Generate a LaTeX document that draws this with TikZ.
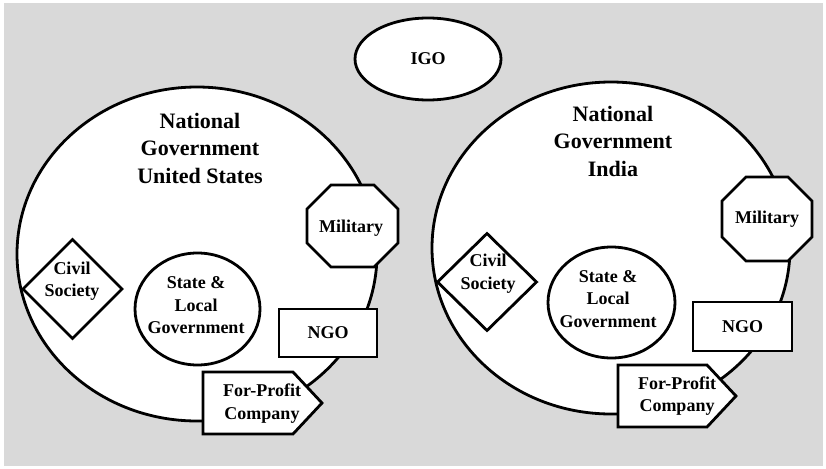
\documentclass[tikz,border=0pt]{standalone}
\usepackage{fontspec}
\setmainfont{Liberation Serif}
\usetikzlibrary{shapes.geometric}
\definecolor{bgc}{RGB}{217,217,217}
\begin{document}
\begin{tikzpicture}[x=1pt,y=-1pt,
  outl/.style={draw=black, line width=2.8pt, fill=white, line join=miter},
  shp/.style={outl, inner sep=0pt, outer sep=0pt},
  title/.style={font=\fontsize{22}{27.5}\selectfont\bfseries, align=center, inner sep=0pt},
  lab/.style={font=\fontsize{18}{22.5}\selectfont\bfseries, align=center, inner sep=0pt}]
\useasboundingbox (0,0) rectangle (826,468);
\fill[bgc] (4,3) rectangle (823,466);

% IGO
\node[shp, ellipse, minimum width=146pt, minimum height=82pt, lab] (igo) at (428,59) {IGO};

% ---------- United States ----------
\node[shp, ellipse, minimum width=360pt, minimum height=334pt] (usa) at (197,254) {};
\node[title] (usatitle) at (200,148) {National\\Government\\United States};

\draw[outl] (331,185) -- (374,185) -- (398,209) -- (398,243) -- (374,267) -- (331,267) -- (307,243) -- (307,209) -- cycle;
\node[lab] (usamil) at (351,228) {Military};

\node[shp, diamond, minimum width=99pt, minimum height=99pt] (usacivd) at (72.5,289) {};
\node[lab] (usaciv) at (72,281) {Civil\\Society};

\node[shp, ellipse, minimum width=125pt, minimum height=112pt] (usastate) at (197.5,309) {};
\node[lab] (usastatet) at (196,305.5) {State \&\\Local\\Government};

\node[shp, rectangle, minimum width=98pt, minimum height=48pt, lab] (usango) at (328,333) {NGO};

\draw[outl] (203,372) -- (293,372) -- (322,403) -- (293,434) -- (203,434) -- cycle;
\node[lab] (usafp) at (262,403.5) {For-Profit\\Company};

% ---------- India ----------
\node[shp, ellipse, minimum width=358pt, minimum height=332pt] (ind) at (611,248) {};
\node[title] (indtitle) at (613,141) {National\\Government\\India};

\draw[outl] (746,177) -- (788,177) -- (812,201) -- (812,237) -- (788,261) -- (746,261) -- (722,237) -- (722,201) -- cycle;
\node[lab] (indmil) at (767,219) {Military};

\node[shp, diamond, minimum width=99pt, minimum height=97pt] (indcivd) at (487,282) {};
\node[lab] (indciv) at (488,273.5) {Civil\\Society};

\node[shp, ellipse, minimum width=127pt, minimum height=111pt] (indstate) at (611.5,302.5) {};
\node[lab] (indstatet) at (608,299) {State \&\\Local\\Government};

\node[shp, rectangle, minimum width=99pt, minimum height=49pt, lab] (indngo) at (742.5,326.5) {NGO};

\draw[outl] (618,365) -- (707,365) -- (736,396) -- (707,427) -- (618,427) -- cycle;
\node[lab] (indfp) at (677,396) {For-Profit\\Company};
\end{tikzpicture}
\end{document}
